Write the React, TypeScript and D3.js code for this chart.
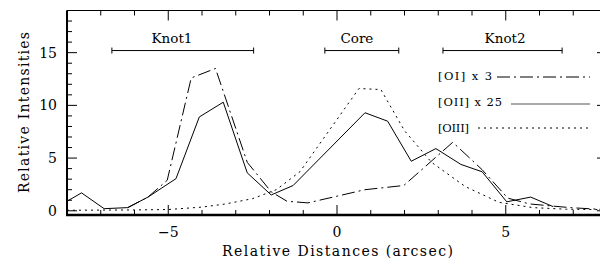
import React from 'react';
import * as d3 from 'd3';

// [OII] x 25 (solid)
const oiiX = [-8.0, -7.57, -6.9, -6.2, -5.6, -4.77, -4.08, -3.37, -2.66, -1.95, -1.3, 0.83, 1.5, 2.2, 2.93, 3.67, 4.3, 5.03, 5.74, 6.4];
const oiiY = [0.9, 1.7, 0.2, 0.3, 1.3, 3.05, 8.9, 10.3, 3.6, 1.5, 2.4, 9.3, 8.5, 4.7, 5.9, 4.4, 3.7, 0.85, 1.3, 0.4];

// [OI] x 3 (dash-dot)
const oiX = [-6.2, -5.6, -5.03, -4.32, -3.6, -2.66, -1.95, -1.48, -0.86, 0.83, 1.98, 3.43, 4.3, 5.06, 5.7, 6.9, 8.0];
const oiY = [0.3, 1.3, 2.9, 12.6, 13.5, 4.6, 1.8, 0.9, 0.75, 2.0, 2.4, 6.5, 3.9, 1.2, 0.65, 0.3, 0.1];

// [OIII] (dotted)
const oiiiX = [-8.0, -6.0, -5.0, -4.0, -3.3, -2.5, -1.8, -1.1, 0.65, 1.3, 2.0, 2.8, 3.8, 4.8, 5.8, 6.8, 8.0];
const oiiiY = [0.05, 0.08, 0.12, 0.35, 0.65, 1.15, 2.0, 3.7, 11.6, 11.5, 7.6, 4.6, 2.3, 0.8, 0.3, 0.15, 0.1];

// annotated regions (arcsec)
const regionNames = ['Knot1', 'Core', 'Knot2'];
const regionStart = [-6.67, -0.36, 3.14];
const regionEnd = [-2.47, 1.83, 6.67];
const regionLabelX = [-4.89, 0.59, 4.98];
const regionY = 15.2;

const legendLabels = ['[OI] x 3', '[OII] x 25', '[OIII]'];

const xMajor = [-5, 0, 5];
const yMajor = [0, 5, 10, 15];

const W = 600;
const H = 261;
const font = '"DejaVu Serif", serif';

const App: React.FC = () => {
  const x = d3.scaleLinear().domain([-8, 8]).range([67, 607]);
  const y = d3.scaleLinear().domain([-0.4, 19]).range([215, 10.5]);

  const line = d3.line<[number, number]>().x(d => x(d[0])).y(d => y(d[1]));
  const zip = (a: number[], b: number[]) => a.map((v, i) => [v, b[i]] as [number, number]);

  const xMinor = d3.range(-8, 9, 1);
  const yMinor = d3.range(0, 20, 1);

  const styles = [
    { dash: '13,4,2,4', width: 1 },
    { dash: null, width: 1 },
    { dash: '2,4', width: 1 },
  ];
  const series = [zip(oiX, oiY), zip(oiiX, oiiY), zip(oiiiX, oiiiY)];

  // legend rows
  const legendTextX = 438;
  const legendRows = [
    { ty: 80, ly: 77, x0: 497, w: 54 },
    { ty: 106, ly: 104, x0: 511, w: 64 },
    { ty: 132, ly: 128, x0: 478, w: 31 },
  ];

  return (
    <svg width={W} height={H} style={{ position: 'absolute', left: 0, top: 0, background: '#fff' }}>
      <defs>
        <clipPath id="plot">
          <rect x={x(-8)} y={y(19)} width={x(8) - x(-8)} height={y(-0.4) - y(19)} />
        </clipPath>
      </defs>

      {/* curves */}
      <g clipPath="url(#plot)">
        {series.map((s, i) => (
          <path key={i} d={line(s) || ''} fill="none" stroke="#000"
            strokeWidth={styles[i].width}
            strokeDasharray={styles[i].dash || undefined} />
        ))}
      </g>

      {/* frame */}
      <line x1={x(-8)} x2={x(8)} y1={y(19)} y2={y(19)} stroke="#000" strokeWidth={1} />
      <line x1={x(8)} x2={x(8)} y1={y(19)} y2={y(-0.4)} stroke="#000" strokeWidth={1} />
      <line x1={x(-8)} x2={x(-8)} y1={y(19)} y2={y(-0.4) + 1} stroke="#000" strokeWidth={2} />
      <line x1={x(-8) - 1} x2={x(8)} y1={y(-0.4)} y2={y(-0.4)} stroke="#000" strokeWidth={2.5} />

      {/* x ticks, bottom and top */}
      {xMinor.map(v => {
        const len = xMajor.includes(v) ? 10 : 5;
        return (
          <g key={'xt' + v}>
            <line x1={x(v)} x2={x(v)} y1={y(-0.4)} y2={y(-0.4) - len} stroke="#000" />
            <line x1={x(v)} x2={x(v)} y1={y(19)} y2={y(19) + len} stroke="#000" />
          </g>
        );
      })}

      {/* y ticks, left and right */}
      {yMinor.map(v => {
        const len = yMajor.includes(v) ? 10 : 5;
        return (
          <g key={'yt' + v}>
            <line x1={x(-8)} x2={x(-8) + len} y1={y(v)} y2={y(v)} stroke="#000" />
            <line x1={x(8)} x2={x(8) - len} y1={y(v)} y2={y(v)} stroke="#000" />
          </g>
        );
      })}

      {/* tick labels */}
      {xMajor.map(v => (
        <text key={'xl' + v} x={x(v)} y={237} textAnchor="middle" fontFamily={font} fontSize={14}>
          {v < 0 ? '\u2212' + Math.abs(v) : v}
        </text>
      ))}
      {yMajor.map(v => (
        <text key={'yl' + v} x={57} y={y(v) + 5} textAnchor="end" fontFamily={font} fontSize={14}>
          {v}
        </text>
      ))}

      {/* axis titles */}
      <text x={337.5} y={256} textAnchor="middle" fontFamily={font} fontSize={14}
        textLength={231} lengthAdjust="spacing">
        Relative Distances (arcsec)
      </text>
      <text transform="translate(29,112.5) rotate(-90)" textAnchor="middle" fontFamily={font} fontSize={14}
        textLength={161} lengthAdjust="spacing">
        Relative Intensities
      </text>

      {/* region brackets */}
      {regionNames.map((name, i) => (
        <g key={name}>
          <line x1={x(regionStart[i])} x2={x(regionEnd[i])} y1={y(regionY)} y2={y(regionY)} stroke="#000" />
          <line x1={x(regionStart[i])} x2={x(regionStart[i])} y1={y(regionY) - 3} y2={y(regionY) + 3} stroke="#000" />
          <line x1={x(regionEnd[i])} x2={x(regionEnd[i])} y1={y(regionY) - 3} y2={y(regionY) + 3} stroke="#000" />
          <text x={x(regionLabelX[i])} y={y(regionY) - 8} textAnchor="middle" fontFamily={font} fontSize={13.5}>
            {name}
          </text>
        </g>
      ))}

      {/* legend */}
      {legendLabels.map((lab, i) => (
        <g key={lab}>
          <text x={legendTextX} y={legendRows[i].ty} fontFamily={font} fontSize={11.5}
            textLength={legendRows[i].w} lengthAdjust="spacing">{lab}</text>
          <line x1={legendRows[i].x0} x2={590} y1={legendRows[i].ly} y2={legendRows[i].ly}
            stroke={i === 1 ? '#555' : '#000'} strokeWidth={i === 1 ? 1.2 : 1}
            strokeDasharray={styles[i].dash || undefined} />
        </g>
      ))}
    </svg>
  );
};

export default App;
